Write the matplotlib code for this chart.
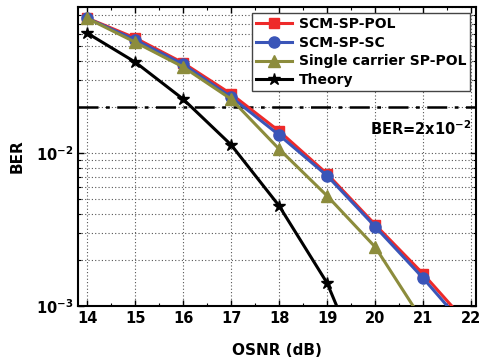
import numpy as np
import matplotlib.pyplot as plt
from matplotlib.ticker import FixedLocator, LogLocator, NullFormatter

# OSNR values (dB)
osnr_scm = [14, 15, 16, 17, 18, 19, 20, 21, 22]
osnr_sc = [14, 15, 16, 17, 18, 19, 20, 21]
osnr_th = [14, 15, 16, 17, 18, 19, 20]

# BER (last value of each series lies below the axis, only the line is seen)
ber_scm_pol = [0.0762, 0.0565, 0.0388, 0.0243, 0.0139, 0.0073, 0.0034, 0.00162, 0.00072]
ber_scm_sc = [0.0760, 0.0550, 0.0380, 0.0232, 0.0131, 0.0071, 0.0033, 0.00152, 0.00066]
ber_single = [0.0760, 0.0530, 0.0365, 0.0225, 0.0106, 0.00524, 0.00243, 0.00079]
ber_theory = [0.0608, 0.0393, 0.0225, 0.0113, 0.00451, 0.00141, 0.00025]

fec_limit = 2e-2

plt.rcParams['font.family'] = 'DejaVu Sans'
plt.rcParams['font.weight'] = 'bold'

fig = plt.figure(figsize=(4.84, 3.63), dpi=100)
ax = fig.add_axes([78 / 484, 1 - 306 / 363, (476 - 78) / 484, (306 - 7) / 363])

lw = 2.2
ax.plot(osnr_scm, ber_scm_pol, color='#ee2a2a', marker='s', ms=7, lw=lw,
        markevery=list(range(8)), label='SCM-SP-POL', zorder=3)
ax.plot(osnr_scm, ber_scm_sc, color='#3a55b8', marker='o', ms=8, lw=lw,
        markevery=list(range(8)), label='SCM-SP-SC', zorder=4)
ax.plot(osnr_sc, ber_single, color='#8c8c3c', marker='^', ms=8, lw=lw,
        markevery=list(range(7)), label='Single carrier SP-POL', zorder=5)
ax.plot(osnr_th, ber_theory, color='black', marker='*', ms=9, lw=lw,
        markevery=list(range(6)), label='Theory', zorder=6)

ax.axhline(fec_limit, color='black', lw=1.8, ls=(0, (8, 3, 1.5, 3)), zorder=2)
ax.text(22.0, 0.0165, 'BER=2x10$^{\\mathbf{-2}}$', ha='right', va='top',
        fontsize=10.5, fontweight='bold')

ax.set_yscale('log')
ax.set_xlim(13.81, 22.1)
ax.set_ylim(1e-3, 0.09)

ax.xaxis.set_major_locator(FixedLocator(range(14, 23)))
ax.xaxis.set_minor_locator(FixedLocator(np.arange(14.5, 22, 1.0)))
ax.yaxis.set_major_locator(LogLocator(base=10))
ax.yaxis.set_minor_locator(LogLocator(base=10, subs=np.arange(2, 10)))
ax.yaxis.set_minor_formatter(NullFormatter())

ax.grid(True, which='major', axis='x', color='#555555', ls=(0, (1, 2)), lw=0.8)
ax.grid(True, which='both', axis='y', color='#555555', ls=(0, (1, 2)), lw=0.8)

ax.tick_params(which='both', direction='in', top=True, right=True, labelsize=10.5)
ax.tick_params(which='major', length=4, width=1)
ax.tick_params(which='minor', length=2.5, width=0.8)
for s in ax.spines.values():
    s.set_linewidth(1.5)

ax.set_xlabel('OSNR (dB)', fontsize=11, fontweight='bold', labelpad=12)
ax.set_ylabel('BER', fontsize=11, fontweight='bold', labelpad=8)

leg = ax.legend(loc='upper right', fontsize=10, fancybox=False, framealpha=1,
                edgecolor='#444444', handlelength=2.6, borderaxespad=0.4,
                labelspacing=0.35, borderpad=0.3, handletextpad=0.5)
leg.get_frame().set_linewidth(1.0)

fig.savefig('out.png', dpi=100)
